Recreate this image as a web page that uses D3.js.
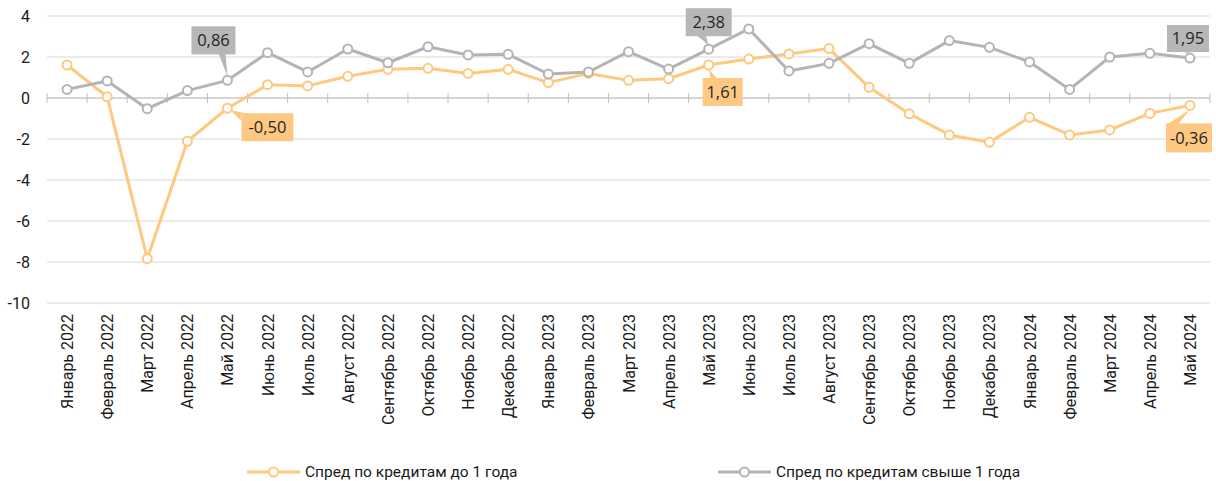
<!DOCTYPE html>
<html lang="ru">
<head>
  <meta charset="UTF-8">
  <title>Спред по кредитам</title>
  <style>
    body { margin: 0; background: #fff; }
    svg { display: block; }
  </style>
</head>
<body>
  <script src="https://d3js.org/d3.v7.min.js"></script>
  <script>
    'use strict';

    const months = [
      'Январь 2022', 'Февраль 2022', 'Март 2022', 'Апрель 2022', 'Май 2022', 'Июнь 2022',
      'Июль 2022', 'Август 2022', 'Сентябрь 2022', 'Октябрь 2022', 'Ноябрь 2022', 'Декабрь 2022',
      'Январь 2023', 'Февраль 2023', 'Март 2023', 'Апрель 2023', 'Май 2023', 'Июнь 2023',
      'Июль 2023', 'Август 2023', 'Сентябрь 2023', 'Октябрь 2023', 'Ноябрь 2023', 'Декабрь 2023',
      'Январь 2024', 'Февраль 2024', 'Март 2024', 'Апрель 2024', 'Май 2024'
    ];

    // спред по кредитам до 1 года
    const shortSpread = [
      1.61, 0.06, -7.84, -2.11, -0.50, 0.65, 0.59, 1.06, 1.40, 1.45, 1.20, 1.40,
      0.75, 1.20, 0.86, 0.94, 1.61, 1.90, 2.15, 2.41, 0.52, -0.77, -1.80, -2.16,
      -0.94, -1.80, -1.56, -0.75, -0.36
    ];

    // спред по кредитам свыше 1 года
    const longSpread = [
      0.42, 0.83, -0.52, 0.36, 0.86, 2.21, 1.27, 2.39, 1.72, 2.50, 2.10, 2.13,
      1.17, 1.27, 2.26, 1.41, 2.38, 3.37, 1.32, 1.69, 2.65, 1.69, 2.80, 2.47,
      1.76, 0.42, 2.00, 2.18, 1.95
    ];

    const yTicks = [4, 2, 0, -2, -4, -6, -8, -10];

    const seriesNames = ['Спред по кредитам до 1 года', 'Спред по кредитам свыше 1 года'];
    const seriesColors = ['#fec97f', '#b4b4b4'];
    const boxColors = ['#fdc982', '#b7b7b7'];

    // which points get a callout, and where the box sits relative to the point
    const callouts = [
      { s: 1, i: 4,  box: [-36, -54, 44, 28], base: [-9, -2], tip: [0, -4] },
      { s: 0, i: 4,  box: [14, 5, 52, 28],    base: [14, 24], tip: [3, 2], side: true },
      { s: 1, i: 16, box: [-23, -41, 46, 28], base: [-12, -3], tip: [0, -4] },
      { s: 0, i: 16, box: [-6, 13, 40, 28],   base: [2, 9],   tip: [0, 4] },
      { s: 1, i: 28, box: [-23, -33, 42, 27], base: [-9, -3], tip: [0, -4] },
      { s: 0, i: 28, box: [-24, 18, 46, 29],  base: [-23, -12], tip: [0, 4] }
    ];

    const width = 1216;
    const height = 481;
    const plotLeft = 47;
    const plotRight = 1210;
    const plotTop = 16;
    const plotBottom = 303;

    const fmt = v => d3.format('.2f')(v).replace('.', ',').replace('−', '-');

    const svg = d3.select('body').append('svg')
      .attr('width', width)
      .attr('height', height);

    const x = d3.scaleBand().domain(months).range([plotLeft, plotRight]);
    const y = d3.scaleLinear().domain([-10, 4]).range([plotBottom, plotTop]);
    const cx = m => x(m) + x.bandwidth() / 2;

    // gridlines
    svg.append('g')
      .selectAll('line')
      .data(yTicks)
      .join('line')
      .attr('x1', plotLeft)
      .attr('x2', plotRight)
      .attr('y1', d => y(d))
      .attr('y2', d => y(d))
      .attr('stroke', '#d9d9d9')
      .attr('stroke-width', 1);

    // y labels
    svg.append('g')
      .selectAll('text')
      .data(yTicks)
      .join('text')
      .attr('x', 30)
      .attr('y', d => y(d))
      .attr('dy', '0.35em')
      .attr('text-anchor', 'end')
      .attr('font-family', 'Roboto, sans-serif')
      .attr('font-size', 16)
      .attr('fill', '#1a1a1a')
      .text(d => d);

    // category axis on the zero line, with tick marks between months
    const zeroAxis = svg.append('g').attr('transform', 'translate(0,' + y(0) + ')');
    zeroAxis.append('line')
      .attr('x1', plotLeft).attr('x2', plotRight)
      .attr('stroke', '#bfbfbf');
    zeroAxis.selectAll('line.tick')
      .data(months.concat(['end']))
      .join('line')
      .attr('class', 'tick')
      .attr('x1', (d, i) => plotLeft + i * x.step())
      .attr('x2', (d, i) => plotLeft + i * x.step())
      .attr('y1', -5)
      .attr('y2', 5)
      .attr('stroke', '#bfbfbf');

    // month labels, rotated
    svg.append('g')
      .selectAll('text')
      .data(months)
      .join('text')
      .attr('transform', d => 'translate(' + (cx(d) + 6) + ',' + (plotBottom + 11) + ') rotate(-90)')
      .attr('text-anchor', 'end')
      .attr('font-family', 'Roboto, sans-serif')
      .attr('font-size', 16)
      .attr('fill', '#1a1a1a')
      .text(d => d);

    const series = [shortSpread, longSpread];
    const line = d3.line()
      .x((d, i) => cx(months[i]))
      .y(d => y(d));

    series.forEach((vals, s) => {
      const g = svg.append('g');
      g.append('path')
        .datum(vals)
        .attr('d', line)
        .attr('fill', 'none')
        .attr('stroke', seriesColors[s])
        .attr('stroke-width', 3)
        .attr('stroke-linejoin', 'round');
      g.selectAll('circle')
        .data(vals)
        .join('circle')
        .attr('cx', (d, i) => cx(months[i]))
        .attr('cy', d => y(d))
        .attr('r', 4.5)
        .attr('fill', '#fff')
        .attr('stroke', seriesColors[s])
        .attr('stroke-width', 2);
    });

    // callouts
    callouts.forEach(c => {
      const v = series[c.s][c.i];
      const px = cx(months[c.i]);
      const py = y(v);
      const [bx, by, bw, bh] = c.box;
      const g = svg.append('g').attr('transform', 'translate(' + px + ',' + py + ')');

      let pts;
      if (c.side) {
        // wedge from the box's top-left corner
        pts = [[bx, by + 1], [bx + 10, by + 1], c.tip, [bx, by + 8]];
      } else if (c.tip[1] < 0) {
        pts = [[c.base[0], by + bh - 1], [c.base[1], by + bh - 1], c.tip];
      } else {
        pts = [[c.base[0], by + 1], [c.base[1], by + 1], c.tip];
      }
      g.append('polygon')
        .attr('points', pts.map(p => p.join(',')).join(' '))
        .attr('fill', boxColors[c.s]);
      g.append('rect')
        .attr('x', bx).attr('y', by)
        .attr('width', bw).attr('height', bh)
        .attr('fill', boxColors[c.s]);
      g.append('text')
        .attr('x', bx + bw / 2)
        .attr('y', by + bh / 2)
        .attr('dy', '0.36em')
        .attr('text-anchor', 'middle')
        .attr('font-family', '"Open Sans", sans-serif')
        .attr('font-size', 16.5)
        .attr('fill', '#262626')
        .text(fmt(v));
    });

    // legend
    const legendY = 472;
    const legendX = [247, 718];
    seriesNames.forEach((name, s) => {
      const g = svg.append('g').attr('transform', 'translate(' + legendX[s] + ',' + legendY + ')');
      g.append('line')
        .attr('x1', 0).attr('x2', 53)
        .attr('stroke', seriesColors[s])
        .attr('stroke-width', 3);
      g.append('circle')
        .attr('cx', 26.5).attr('cy', 0).attr('r', 4.5)
        .attr('fill', '#fff')
        .attr('stroke', seriesColors[s])
        .attr('stroke-width', 2);
      g.append('text')
        .attr('x', 58)
        .attr('dy', '0.35em')
        .attr('font-family', 'Roboto, sans-serif')
        .attr('font-size', 15.5)
        .attr('fill', '#1a1a1a')
        .text(name);
    });
  </script>
</body>
</html>
